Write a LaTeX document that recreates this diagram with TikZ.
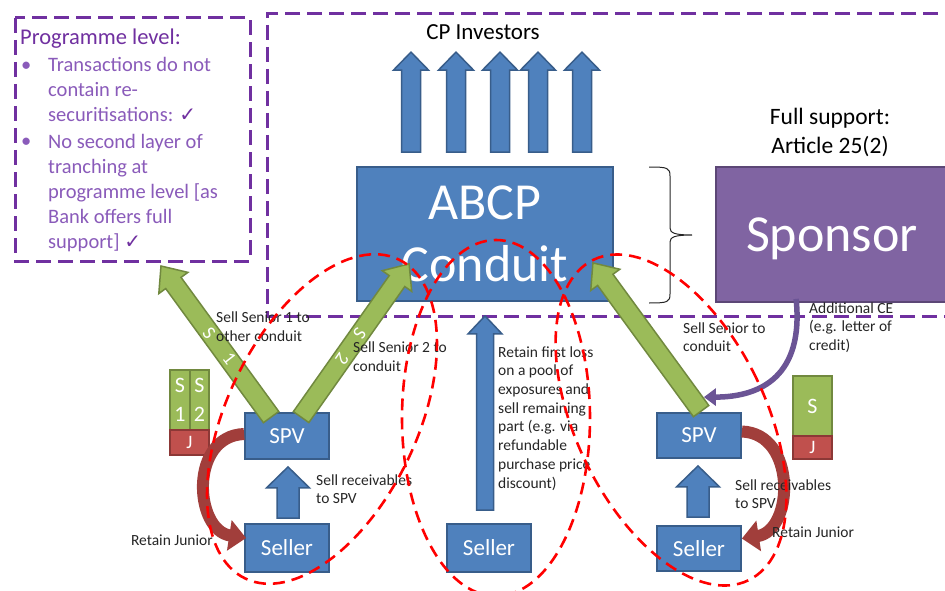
\documentclass[tikz,border=0pt]{standalone}
\usepackage{fontspec}
\setmainfont{Carlito}
\newfontfamily\symfam{DejaVu Sans}
\usetikzlibrary{calc,arrows.meta}
\definecolor{boxblue}{HTML}{4F81BD}
\definecolor{boxblueline}{HTML}{385D8A}
\definecolor{grfill}{HTML}{9BBB59}
\definecolor{grline}{HTML}{71893F}
\definecolor{rdfill}{HTML}{C0504D}
\definecolor{rdline}{HTML}{8C3836}
\definecolor{spfill}{HTML}{8064A2}
\definecolor{spline}{HTML}{5C4776}
\definecolor{dashpurple}{HTML}{7030A0}
\definecolor{bulletpurple}{HTML}{8A5BBA}
\definecolor{curvered}{HTML}{A13E3B}
\definecolor{curvepurple}{HTML}{6B5495}
\definecolor{lbltext}{HTML}{262626}
\newcommand\lblfont{\fontsize{15.5}{18.7}\selectfont}
\newcommand\chk{{\symfam\fontsize{20}{20}\selectfont\textcolor{dashpurple}{\itshape ✓}}}
% block arrow: #1 tail, #2 tip, #3 shaft half width, #4 head half width, #5 head length, #6 style
\newcommand\blockarrow[6]{%
  \coordinate (neck) at ($(#2)!#5!(#1)$);
  \path[#6] ($(#1)!#3!90:(#2)$) -- ($(neck)!#3!90:(#2)$) -- ($(neck)!#4!90:(#2)$) -- (#2)
    -- ($(neck)!#4!-90:(#2)$) -- ($(neck)!#3!-90:(#2)$) -- ($(#1)!#3!-90:(#2)$) -- cycle;
}
\begin{document}
\begin{tikzpicture}[x=1pt,y=1pt,
  purpdash/.style={draw=dashpurple, line width=3pt, dash pattern=on 15pt off 7pt},
  redell/.style={draw=red, line width=2.6pt, dash pattern=on 12pt off 7pt},
  bluebox/.style={draw=boxblueline, fill=boxblue, line width=1.8pt, text=white, inner sep=0pt, font=\fontsize{23}{27}\selectfont, minimum width=84pt},
  bluearrow/.style={fill=boxblue, draw=boxblueline, line width=1.5pt},
  greenarrow/.style={fill=grfill, draw=grline, line width=1.5pt},
  greentranche/.style={fill=grfill, draw=grline, line width=1.5pt, text=white, inner sep=0pt, font=\fontsize{22}{29}\selectfont, align=center},
  redtranche/.style={fill=rdfill, draw=rdline, line width=1.5pt, text=white, inner sep=0pt, font=\fontsize{19}{20}\selectfont},
  lbl/.style={anchor=base west, align=left, inner sep=0pt, font=\lblfont, text=lbltext},
  redcurve/.style={draw=curvered, line width=12pt, -{Triangle[width=30pt,length=17pt]}},
  purplecurve/.style={draw=curvepurple, line width=5.5pt, -{Triangle[width=17pt,length=12pt]}},
  arrowtext/.style={text=white, font=\fontsize{19}{20}\selectfont, inner sep=0pt},
  bracestyle/.style={draw=black!85, line width=1pt},
  progtext/.style={anchor=base west, align=left, inner sep=0pt, text=bulletpurple, font=\fontsize{20.5}{25}\selectfont},
]
\useasboundingbox (0,0) rectangle (945,-591);
\fill[white] (0,0) rectangle (945,-591);

% dashed frames
\draw[purpdash] (15,-18) rectangle (250,-261);
\draw[purpdash] (960,-14) -- (267,-14) -- (267,-316) -- (960,-316);

% programme level text (multi-line nodes are anchored at the baseline of their last line)
\node[anchor=base west, inner sep=0pt, text=dashpurple, font=\fontsize{22.5}{27}\selectfont] (proghead) at (20,-45) {Programme level:};
\node[progtext] (dot1) at (21,-72) {•};
\node[progtext] (item1) at (48,-122) {Transactions do not\\contain re-\\securitisations: \chk};
\node[progtext] (dot2) at (21,-147) {•};
\node[progtext] (item2) at (48,-248) {No second layer of\\tranching at\\programme level [as\\Bank offers full\\support] \chk};

% main boxes
\node[draw=boxblueline, fill=boxblue, line width=1.8pt, text=white, minimum width=256pt, minimum height=134pt, align=center, font=\fontsize{52}{62}\selectfont, inner sep=0pt] (abcp) at (485,-234) {ABCP\\Conduit};
\node[draw=spline, fill=spfill, line width=1.8pt, text=white, minimum width=232pt, minimum height=135pt, font=\fontsize{52}{62}\selectfont, inner sep=0pt, text depth=0pt] (sponsor) at (832,-234.5) {Sponsor};

% brace
\draw[bracestyle] (649,-167) .. controls (668,-167) and (670,-168) .. (670,-176) -- (670,-228)
  .. controls (670,-233) and (675,-235) .. (692,-235)
  .. controls (675,-235) and (670,-237) .. (670,-242) -- (670,-294)
  .. controls (670,-302) and (668,-303) .. (649,-303);

% titles
\node[anchor=base, inner sep=0pt, font=\fontsize{23}{28}\selectfont] (cpinv) at (483,-40) {CP Investors};
\node[anchor=base, align=center, inner sep=0pt, font=\fontsize{23.5}{28.5}\selectfont] (fullsup) at (830,-153.5) {Full support:\\Article 25(2)};

% CP investor arrows
\foreach \dx [count=\i] in {-74,-29,15,53,97} {
  \coordinate (cpbase\i) at ($(abcp.north)+(\dx,14)$);
  \coordinate (cptip\i) at ($(abcp.north)+(\dx,114)$);
  \blockarrow{cpbase\i}{cptip\i}{9.5pt}{17.5pt}{18pt}{bluearrow}
}

% SPVs and sellers
\node[bluebox, minimum height=46pt] (spvL) at (287,-436) {SPV};
\node[bluebox, minimum height=48pt] (sellerL) at (287,-548) {Seller};
\node[bluebox, minimum height=48pt] (sellerM) at (489,-548) {Seller};
\node[bluebox, minimum height=45pt] (spvR) at (699,-435.5) {SPV};
\node[bluebox, minimum height=45pt] (sellerR) at (699,-548.5) {Seller};

% tranches
\node[greentranche, minimum width=20pt, minimum height=60pt] (s1L) at (180,-400) {S\\1};
\node[greentranche, minimum width=19pt, minimum height=60pt] (s2L) at (199.5,-400) {S\\2};
\node[redtranche, minimum width=39pt, minimum height=25pt] (jL) at (189.5,-442.5) {J};
\node[greentranche, minimum width=39pt, minimum height=60pt] (sR) at (812.5,-406) {S};
\node[redtranche, minimum width=39pt, minimum height=23pt] (jR) at (812.5,-447.5) {J};

% blue arrows seller -> SPV / conduit
\coordinate (bLtail) at ($(sellerL.north)+(1,5)$);
\coordinate (bLtip) at ($(spvL.south)+(1,-7)$);
\blockarrow{bLtail}{bLtip}{11pt}{21.5pt}{21pt}{bluearrow}
\coordinate (bRtail) at ($(sellerR.north)+(-1,8)$);
\coordinate (bRtip) at ($(spvR.south)+(-1,-7)$);
\blockarrow{bRtail}{bRtip}{11pt}{21.5pt}{21pt}{bluearrow}
\coordinate (bMtail) at ($(sellerM.north)+(-4,13)$);
\coordinate (bMtip) at ($(abcp.south)+(0,-14)$);
\blockarrow{bMtail}{bMtip}{8.5pt}{17pt}{18pt}{bluearrow}

% green arrows
\coordinate (g1tail) at ($(spvL.north west)+(27,-5)$);
\coordinate (g1tip) at (161,-266);
\blockarrow{g1tail}{g1tip}{9.5pt}{18pt}{21pt}{greenarrow}
\coordinate (g2tail) at ($(spvL.north west)+(57,-5)$);
\coordinate (g2tip) at ($(abcp.south west)+(53,38)$);
\blockarrow{g2tail}{g2tip}{9.5pt}{18pt}{21pt}{greenarrow}
\coordinate (g3tail) at ($(spvR.north west)+(45,1)$);
\coordinate (g3tip) at ($(abcp.south east)+(-21,39)$);
\blockarrow{g3tail}{g3tip}{9.5pt}{18pt}{21pt}{greenarrow}
\node[arrowtext, rotate=-52] (s1txt) at ($(g1tail)!0.47!(g1tip)$) {S\hspace{24pt}1};
\node[arrowtext, rotate=-124.5] (s2txt) at ($(g2tail)!0.46!(g2tip)$) {S\hspace{22pt}2};

% curved arrows
\draw[redcurve] ($(spvL.west)+(0,2)$) .. controls +(-55,-2) and +(-52,8) .. ($(sellerL.west)+(2,10)$);
\draw[redcurve] ($(spvR.east)+(0,4)$) .. controls +(55,-2) and +(52,8) .. ($(sellerR.east)+(0,10)$);
\draw[purplecurve] ($(sponsor.south west)+(81,4)$) .. controls +(8,-77) and +(57,0) .. ($(spvR.north east)+(-38,15)$);

% labels (anchored at the baseline of the last line)
\node[lbl] (t1) at (216,-341) {Sell Senior 1 to\\other conduit};
\node[lbl] (t2) at (353,-371.5) {Sell Senior 2 to\\conduit};
\node[lbl] (t3) at (498,-488) {Retain first loss\\on a pool of\\exposures and\\sell remaining\\part (e.g. via\\refundable\\purchase price\\discount)};
\node[lbl] (t4) at (683,-351.7) {Sell Senior to\\conduit};
\node[lbl] (t5) at (809,-350.4) {Additional CE\\(e.g. letter of\\credit)};
\node[lbl] (t6) at (316,-503.7) {Sell receivables\\to SPV};
\node[lbl] (t7) at (735,-508.7) {Sell receivables\\to SPV};
\node[lbl, anchor=base east] (t8) at (213,-545) {Retain Junior};
\node[lbl] (t9) at (772,-537) {Retain Junior};

% red dashed ellipses
\draw[redell, rotate around={-25.7:(322,-419)}] (322,-419) ellipse [x radius=95, y radius=177];
\draw[redell] (496,-418) ellipse [x radius=94, y radius=178];
\draw[redell, rotate around={25.8:(671,-420)}] (671,-420) ellipse [x radius=95, y radius=178];
\end{tikzpicture}
\end{document}
